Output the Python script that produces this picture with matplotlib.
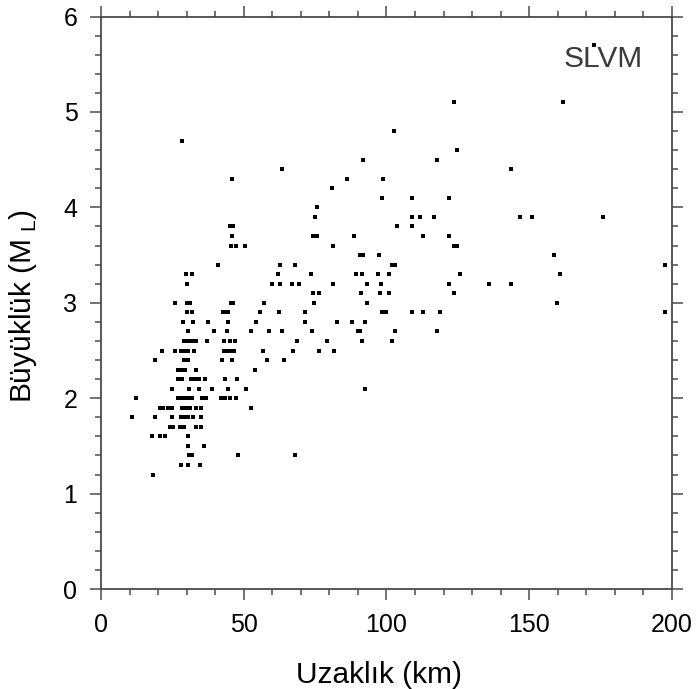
import matplotlib
matplotlib.use("Agg")
import matplotlib.pyplot as plt
from matplotlib.ticker import MultipleLocator

plt.rcParams['font.family'] = ['Liberation Sans', 'DejaVu Sans']
plt.rcParams['mathtext.fontset'] = 'custom'
plt.rcParams['mathtext.rm'] = 'Liberation Sans'

# magnitude levels and the distances (km) of the events at each level
mag_levels = [5.7, 5.1, 4.8, 4.7, 4.6, 4.5, 4.4, 4.3, 4.2, 4.1, 4.0, 3.9, 3.8, 3.7,
              3.6, 3.5, 3.4, 3.3, 3.2, 3.1, 3.0, 2.9, 2.8, 2.7, 2.6, 2.5, 2.4, 2.3,
              2.2, 2.1, 2.0, 1.9, 1.8, 1.7, 1.6, 1.5, 1.4, 1.3, 1.2]
dist_at_mag = [
    [172.8],
    [123.8, 161.9],
    [102.7],
    [28.4],
    [124.7],
    [91.7, 117.8],
    [63.4, 143.7],
    [45.9, 86.1, 98.9],
    [80.9],
    [98.5, 108.9, 121.8],
    [75.5],
    [75.0, 108.9, 111.9, 116.7, 146.8, 150.9, 175.7],
    [45.3, 46.3, 103.8, 108.9],
    [45.9, 74.4, 75.7, 88.7, 112.8, 121.8],
    [45.4, 47.2, 50.5, 81.3, 123.8, 124.8],
    [90.8, 91.9, 97.4, 158.8],
    [41.1, 62.7, 68.1, 101.9, 102.9, 197.7],
    [29.9, 32.0, 61.9, 73.6, 89.4, 91.4, 96.9, 100.8, 125.7, 160.8],
    [30.2, 59.8, 62.7, 66.9, 69.4, 81.4, 93.1, 98.0, 121.8, 135.9, 143.7],
    [74.1, 76.5, 91.2, 97.7, 100.8, 123.8],
    [25.9, 30.2, 31.3, 45.5, 46.1, 57.2, 74.7, 93.1, 159.7],
    [30.0, 31.8, 42.6, 43.7, 44.4, 55.7, 62.3, 71.6, 98.3, 99.8, 108.9, 112.8, 118.8, 197.7],
    [28.8, 32.3, 37.6, 44.6, 54.3, 71.6, 82.7, 87.9, 92.6],
    [30.4, 39.6, 44.0, 52.7, 58.8, 63.5, 74.0, 90.0, 90.7, 102.9, 117.8],
    [29.2, 30.6, 32.0, 33.3, 37.0, 42.9, 45.2, 47.0, 68.7, 79.3, 91.5, 101.8],
    [21.2, 25.9, 28.0, 29.2, 30.4, 32.6, 43.2, 44.4, 45.5, 46.7, 56.9, 67.1, 76.2, 81.6],
    [19.0, 29.1, 30.6, 42.3, 45.9, 58.1, 64.2],
    [26.9, 28.1, 29.4, 33.2, 53.9],
    [27.1, 28.5, 31.5, 32.9, 34.4, 36.5, 43.3, 47.8],
    [24.9, 30.7, 34.2, 38.9, 44.4, 50.7, 92.5],
    [12.1, 26.9, 28.0, 29.2, 30.4, 31.8, 35.3, 36.7, 41.9, 43.4, 45.2, 47.2],
    [20.7, 21.8, 23.6, 24.8, 28.3, 29.7, 31.2, 33.3, 35.0, 52.5],
    [10.7, 18.9, 24.8, 28.0, 29.2, 30.6, 32.1, 34.9],
    [24.1, 25.2, 27.7, 29.1, 33.2, 35.0],
    [17.7, 20.7, 22.4, 30.4],
    [30.4, 36.2],
    [30.8, 32.0, 47.9, 68.1],
    [28.0, 30.6, 34.7],
    [18.1],
]

dist = [d for ds in dist_at_mag for d in ds]
mag = [m for m, ds in zip(mag_levels, dist_at_mag) for _ in ds]

axis_col = "#4a4a4a"

fig = plt.figure(figsize=(6.97, 6.89), dpi=100)
ax = fig.add_axes([0.145, 0.145, 0.819, 0.831])

ax.plot(dist, mag, linestyle="none", marker="s", markersize=3.1,
        markerfacecolor="black", markeredgewidth=0, color="black")

ax.set_xlim(0, 200)
ax.set_ylim(0, 6)
ax.xaxis.set_major_locator(MultipleLocator(50))
ax.xaxis.set_minor_locator(MultipleLocator(10))
ax.yaxis.set_major_locator(MultipleLocator(1))
ax.yaxis.set_minor_locator(MultipleLocator(0.2))

for s in ax.spines.values():
    s.set_color(axis_col)
    s.set_linewidth(1.3)
ax.tick_params(which="both", direction="out", top=True, right=True,
               color=axis_col, width=1.1, labelsize=18, pad=9)
ax.tick_params(which="major", length=8)
ax.tick_params(which="minor", length=4)

fig.text(379.5 / 697, 1 - 675 / 689, "Uzaklık (km)", fontsize=21.5,
         ha="center", va="center")
fig.text(23 / 697, 1 - 306 / 689, "Büyüklük (M$_{\\rm\\ L}$)", fontsize=21.5,
         ha="center", va="center", rotation=90)

ax.text(0.879, 0.926, "SLVM", transform=ax.transAxes, fontsize=21.5,
        color="#3a3a3a", ha="center", va="center")

fig.savefig("out.png", dpi=100)
